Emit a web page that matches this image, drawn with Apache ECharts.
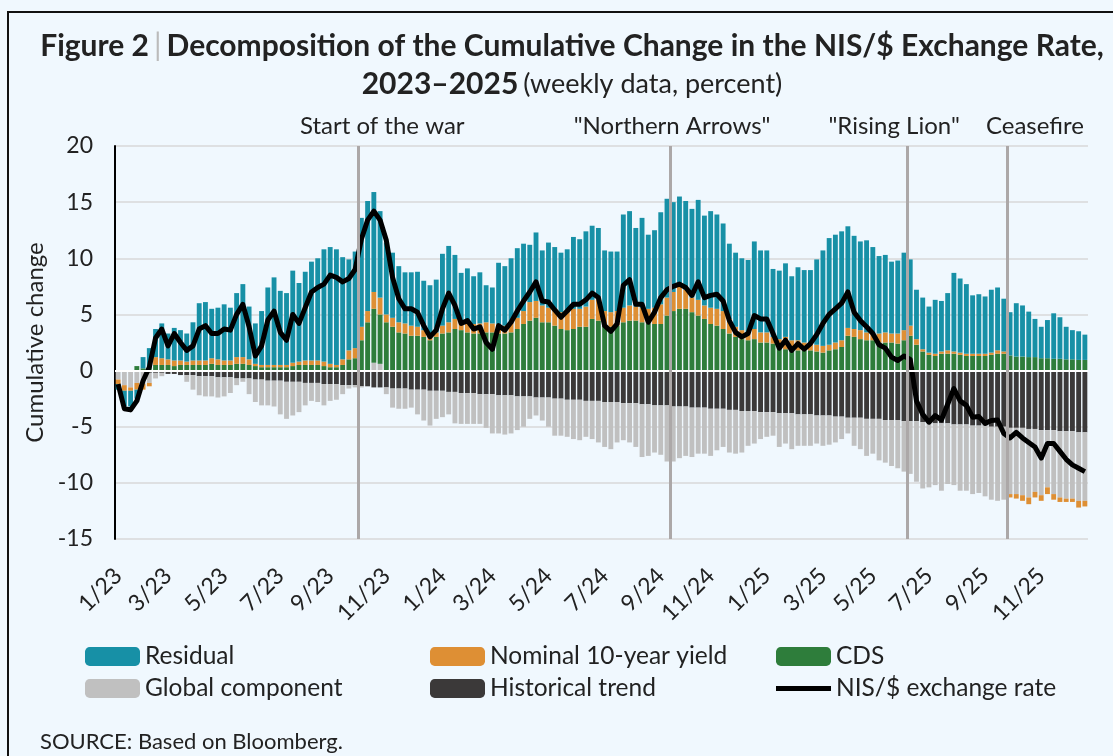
<!DOCTYPE html>
<html>
<head>
<meta charset="utf-8">
<script src="https://cdn.jsdelivr.net/npm/echarts@6/dist/echarts.min.js"></script>
<style>
  html, body { margin: 0; padding: 0; background: #f0f8fe; }
  #chart { width: 1113px; height: 756px; }
</style>
</head>
<body>
<div id="chart"></div>
<script>
// weekly observations, Friday 6 Jan 2023 .. 26 Dec 2025
var weeks = [];
for (var w = 0; w < 156; w++) {
    var d = new Date(Date.UTC(2023, 0, 6 + 7 * w));
    weeks.push(d.toISOString().slice(0, 10));
}
var tickLabels = ['1/23', '3/23', '5/23', '7/23', '9/23', '11/23', '1/24', '3/24', '5/24',
    '7/24', '9/24', '11/24', '1/25', '3/25', '5/25', '7/25', '9/25', '11/25'];

// events (position = week boundary)
var eventNames = ['Start of the war', '"Northern Arrows"', '"Rising Lion"', 'Ceasefire'];
var eventWeeks = [39, 89, 127, 143];

// 历史趋势
var trend = [
    0, 0, -0.1, -0.1, -0.1, -0.2, -0.2, -0.2, -0.3, -0.3,
    -0.4, -0.4, -0.4, -0.5, -0.5, -0.5, -0.6, -0.6, -0.6, -0.7,
    -0.7, -0.7, -0.8, -0.8, -0.9, -0.9, -0.9, -1.0, -1.0, -1.0,
    -1.1, -1.1, -1.1, -1.2, -1.2, -1.2, -1.3, -1.3, -1.3, -1.4,
    -1.4, -1.5, -1.5, -1.5, -1.6, -1.6, -1.6, -1.7, -1.7, -1.7,
    -1.8, -1.8, -1.8, -1.9, -1.9, -2.0, -2.0, -2.0, -2.1, -2.1,
    -2.1, -2.2, -2.2, -2.2, -2.3, -2.3, -2.3, -2.4, -2.4, -2.4,
    -2.5, -2.5, -2.6, -2.6, -2.6, -2.7, -2.7, -2.7, -2.8, -2.8,
    -2.8, -2.9, -2.9, -2.9, -3.0, -3.0, -3.1, -3.1, -3.1, -3.2,
    -3.2, -3.2, -3.3, -3.3, -3.3, -3.4, -3.4, -3.4, -3.5, -3.5,
    -3.6, -3.6, -3.6, -3.7, -3.7, -3.7, -3.8, -3.8, -3.8, -3.9,
    -3.9, -3.9, -4.0, -4.0, -4.0, -4.1, -4.1, -4.2, -4.2, -4.2,
    -4.3, -4.3, -4.3, -4.4, -4.4, -4.4, -4.5, -4.5, -4.5, -4.6,
    -4.6, -4.7, -4.7, -4.7, -4.8, -4.8, -4.8, -4.9, -4.9, -4.9,
    -5.0, -5.0, -5.0, -5.1, -5.1, -5.1, -5.2, -5.2, -5.3, -5.3,
    -5.3, -5.4, -5.4, -5.4, -5.5, -5.5
];
// 全球因素
var globalComp = [
    -0.8, -1.3, -1.4, -1.0, -1.1, -0.9, -0.5, -0.3, 0, 0,
    0, -0.6, -1.3, -1.7, -1.8, -1.8, -1.8, -1.7, -1.4, -0.6,
    -0.3, -1.4, -2.0, -2.3, -2.2, -2.3, -3.0, -3.3, -3.0, -2.7,
    -2.0, -1.6, -1.7, -1.9, -1.5, -1.4, -0.8, -0.3, -0.2, -0.1,
    0, 0.7, 0.6, -0.6, -1.7, -1.8, -1.8, -1.6, -2.2, -2.75,
    -3.1, -2.5, -2.35, -2.0, -2.8, -2.75, -2.75, -2.75, -2.65, -3.0,
    -3.5, -3.4, -3.5, -3.4, -3.0, -2.7, -2.0, -1.6, -2.05, -2.6,
    -3.3, -3.3, -3.3, -3.5, -3.6, -3.2, -3.4, -3.7, -4.0, -4.2,
    -3.6, -3.3, -3.5, -3.9, -4.7, -4.6, -4.2, -4.4, -5.0, -4.9,
    -4.6, -4.4, -4.4, -4.1, -4.1, -4.2, -3.7, -3.4, -3.8, -3.9,
    -3.7, -3.1, -2.9, -2.4, -2.2, -2.1, -3.0, -2.7, -3.2, -2.8,
    -2.8, -2.8, -2.5, -2.7, -2.6, -2.3, -2.0, -1.4, -2.5, -2.8,
    -3.3, -3.1, -3.7, -3.8, -4.1, -4.3, -4.5, -4.7, -5.4, -5.9,
    -5.8, -5.5, -6.0, -5.4, -5.4, -5.9, -5.9, -6.1, -6.0, -6.3,
    -6.5, -6.6, -6.5, -5.9, -5.9, -6.0, -6.1, -5.6, -5.8, -5.1,
    -5.7, -5.9, -6.0, -6.0, -6.1, -6.1
];
// CDS
var cds = [
    0, 0, 0, 0.4, 0.2, 0.3, 0.5, 0.5, 0.5, 0.4,
    0.5, 0.5, 0.5, 0.5, 0.5, 0.6, 0.5, 0.5, 0.5, 0.6,
    0.6, 0.5, 0.4, 0.3, 0.3, 0.3, 0.3, 0.3, 0.4, 0.5,
    0.5, 0.5, 0.5, 0.4, 0.3, 0.3, 0.5, 1.0, 1.1, 2.7,
    4.3, 4.8, 4.4, 4.3, 3.9, 3.4, 3.3, 3.1, 3.1, 3.0,
    2.7, 3.0, 3.3, 3.4, 3.7, 3.6, 3.4, 3.3, 3.3, 3.4,
    3.4, 3.3, 3.3, 3.4, 3.7, 4.15, 4.45, 4.7, 4.3, 4.3,
    4.0, 3.7, 3.6, 3.7, 3.9, 3.9, 4.6, 4.45, 4.0, 3.9,
    4.0, 4.3, 4.45, 4.45, 4.3, 4.2, 4.15, 4.15, 4.9, 5.3,
    5.5, 5.5, 5.2, 4.9, 4.6, 4.15, 4.0, 3.7, 3.3, 3.0,
    2.8, 2.7, 2.8, 2.5, 2.5, 2.4, 2.1, 1.9, 1.8, 1.8,
    1.8, 1.8, 1.7, 1.6, 1.8, 1.9, 2.1, 3.1, 3.0, 2.8,
    2.7, 2.7, 2.5, 2.5, 2.5, 2.4, 2.7, 3.1, 2.3, 1.7,
    1.4, 1.3, 1.5, 1.5, 1.5, 1.4, 1.3, 1.3, 1.3, 1.3,
    1.4, 1.5, 1.5, 1.35, 1.25, 1.25, 1.2, 1.2, 1.1, 1.1,
    1.05, 1.05, 1.0, 1.0, 0.95, 0.95
];
// 10年期名义收益率
var yield10 = [
    -0.4, -0.5, -0.3, -0.6, -0.5, -0.3, 0.7, 0.6, 0.5, 0.5,
    0.4, 0.3, 0.4, 0.4, 0.4, 0.5, 0.5, 0.4, 0.4, 0.6,
    0.6, 0.5, 0.2, 0.2, 0.2, 0.2, 0.2, 0.2, 0.3, 0.3,
    0.4, 0.4, 0.4, 0.4, 0.3, 0.2, 0.5, 0.8, 0.9, 1.2,
    1.0, 1.5, 1.5, 0.7, 0.8, 0.9, 0.9, 0.9, 0.8, 0.6,
    0.4, 0.4, 0.7, 0.9, 0.9, 0.7, 0.9, 0.85, 0.9, 0.9,
    0.8, 0.85, 0.7, 0.9, 1.0, 1.15, 1.65, 1.5, 1.5, 1.3,
    1.5, 1.5, 1.7, 1.8, 1.6, 1.8, 1.7, 2.05, 1.3, 1.3,
    1.3, 1.3, 1.35, 1.25, 1.3, 1.3, 1.45, 1.75, 1.6, 1.7,
    2.0, 1.7, 1.3, 1.4, 1.2, 1.45, 1.5, 1.6, 1.3, 0.9,
    0.8, 0.7, 0.9, 0.9, 0.9, 0.6, 0.7, 1.1, 0.9, 0.9,
    0.7, 0.6, 0.6, 0.6, 0.5, 0.6, 0.6, 0.7, 0.7, 0.8,
    0.7, 0.6, 0.8, 0.9, 0.8, 0.9, 0.9, 0.9, 0.5, 0.2,
    0.2, 0.2, 0.2, 0.3, 0.2, 0.2, 0.2, 0.2, 0.2, 0.2,
    0.2, 0.3, 0.2, -0.3, -0.4, -0.5, -0.6, -0.5, -0.5, -0.6,
    -0.5, -0.4, -0.3, -0.3, -0.6, -0.5
];
// 残差
var residual = [
    -0.5, -1.4, -1.4, -0.8, 1.0, 1.7, 2.5, 3.1, 2.3, 2.9,
    2.7, 2.5, 3.4, 5.1, 5.2, 4.4, 4.6, 5.0, 4.7, 5.7,
    6.5, 4.7, 3.6, 4.8, 6.9, 7.8, 6.6, 6.4, 8.2, 7.0,
    7.9, 8.8, 9.1, 10.0, 10.4, 10.3, 9.1, 8.1, 8.6, 9.7,
    9.8, 8.9, 7.7, 6.4, 5.8, 5.0, 4.55, 4.75, 4.9, 4.4,
    4.5, 4.7, 6.4, 6.8, 5.7, 4.4, 4.8, 4.25, 4.55, 3.3,
    3.2, 5.45, 5.3, 5.7, 6.2, 6.0, 5.1, 6.1, 4.9, 5.8,
    5.5, 5.3, 5.5, 6.4, 6.2, 6.7, 6.6, 6.2, 5.4, 5.4,
    5.3, 8.3, 8.4, 7.0, 8.0, 6.6, 6.9, 8.2, 8.8, 8.0,
    8.0, 7.9, 7.9, 8.9, 8.0, 8.6, 8.4, 7.8, 6.7, 6.6,
    6.4, 6.45, 7.8, 7.3, 7.3, 6.05, 6.1, 6.55, 5.7, 6.5,
    6.45, 6.55, 7.6, 8.5, 9.5, 9.6, 9.7, 9.05, 8.3, 7.9,
    8.2, 7.7, 6.9, 6.9, 6.4, 6.5, 6.9, 5.9, 4.4, 4.6,
    4.1, 4.8, 4.5, 5.1, 7.0, 6.6, 6.2, 5.2, 5.3, 5.1,
    5.6, 5.6, 4.7, 3.85, 4.75, 4.55, 4.05, 3.4, 2.8, 3.4,
    4.05, 3.7, 2.9, 2.6, 2.55, 2.25
];
// 美元/谢克尔汇率累计变化
var nisRate = [
    -1.2, -3.4, -3.5, -2.7, -0.9, 0.3, 2.9, 3.7, 2.2, 3.3,
    2.5, 1.8, 2.2, 3.7, 4.0, 3.3, 3.3, 3.7, 3.6, 5.0,
    5.9, 3.9, 1.3, 2.2, 4.5, 5.3, 3.4, 2.7, 5.0, 4.2,
    5.6, 7.0, 7.4, 7.7, 8.5, 8.3, 7.9, 8.2, 9.0, 11.7,
    13.4, 14.2, 13.4, 11.6, 8.3, 6.4, 5.5, 5.5, 5.2, 4.0,
    3.0, 3.6, 5.5, 6.9, 5.8, 4.2, 4.45, 3.7, 3.9, 2.5,
    1.9, 4.0, 3.6, 4.3, 5.3, 6.2, 7.0, 7.9, 6.2, 6.1,
    5.4, 4.75, 5.3, 5.9, 5.9, 6.3, 6.9, 6.5, 4.0, 3.5,
    4.15, 7.6, 8.1, 5.9, 5.9, 4.3, 5.2, 6.5, 7.2, 7.5,
    7.7, 7.4, 6.7, 7.9, 6.5, 6.7, 6.8, 6.2, 4.45, 3.4,
    3.0, 3.3, 4.9, 4.6, 4.6, 3.3, 2.0, 2.7, 1.8, 2.4,
    1.9, 2.4, 3.2, 4.2, 5.0, 5.5, 6.0, 7.0, 5.2, 4.45,
    3.9, 3.3, 2.3, 2.0, 1.2, 0.9, 1.3, 1.0, -2.7, -3.9,
    -4.6, -4.0, -4.4, -3.0, -1.6, -2.7, -3.1, -4.15, -4.1, -4.7,
    -4.45, -4.4, -5.6, -6.0, -5.5, -6.0, -6.4, -6.8, -7.8, -6.5,
    -6.5, -7.2, -7.9, -8.4, -8.7, -9.0
];

var FONT = 'Lato';
var TXT = '#222222';

function tickOf(val) {
    var p = val.split('-');
    return (+p[1]) + '/' + p[0].slice(2);
}

var myChart = echarts.init(document.getElementById('chart'));

function barSeries(name, data, color) {
    return {
        name: name,
        type: 'bar',
        stack: 'total',
        data: data,
        barCategoryGap: '22%',
        itemStyle: { color: color },
        emphasis: { disabled: true }
    };
}

var residualSeries = barSeries('Residual', residual, '#1790a6');
// 零线（白色）
residualSeries.markLine = {
    silent: true,
    symbol: 'none',
    label: { show: false },
    lineStyle: { color: '#ffffff', width: 2, type: 'solid' },
    data: [{ yAxis: 0 }]
};

var eventData = [];
var labelShift = [24, 2, -13, 28];
for (var e = 0; e < eventWeeks.length; e++) {
    eventData.push({ name: eventNames[e], xAxis: eventWeeks[e], label: { offset: [labelShift[e], 0] } });
}

// 图例：三列，每列两行
function legendCol(left, names) {
    return {
        orient: 'vertical',
        left: left,
        top: 644,
        padding: 0,
        itemWidth: 55,
        itemHeight: 19,
        itemGap: 7,
        selectedMode: false,
        symbolKeepAspect: true,
        textStyle: { fontFamily: FONT, fontSize: 24.5, color: TXT, lineHeight: 24 },
        data: names
    };
}

var option = {
    backgroundColor: '#f0f8fe',
    animation: false,
    title: {
        left: 567,
        top: 22,
        textAlign: 'center',
        text: '{b|Figure 2} {s||} {b|Decomposition of the Cumulative Change in the NIS/$ Exchange Rate,}\n' +
            '{b|2023\u20132025} {n|(weekly data, percent)}',
        textStyle: {
            rich: {
                b: { fontFamily: FONT, fontWeight: 'bold', fontSize: 30, color: TXT, lineHeight: 38 },
                s: { fontFamily: FONT, fontWeight: 'normal', fontSize: 30, color: '#bbbbbb', lineHeight: 38 },
                n: { fontFamily: FONT, fontWeight: 'normal', fontSize: 27, color: TXT, lineHeight: 38 }
            }
        }
    },
    legend: [
        legendCol(85, ['Residual', 'Global component']),
        legendCol(430, ['Nominal 10-year yield', 'Historical trend']),
        legendCol(776, ['CDS', { name: 'NIS/$ exchange rate', icon: 'path://M0,0L55,0L55,5L0,5Z' }])
    ],
    grid: { left: 115, right: 25, top: 146, bottom: 217 },
    xAxis: [{
        type: 'category',
        data: weeks,
        boundaryGap: true,
        axisLine: { show: false, onZero: false },
        axisTick: { show: false },
        splitLine: { show: false },
        axisLabel: {
            rotate: 45,
            margin: 33,
            fontFamily: FONT,
            fontSize: 23,
            color: TXT,
            interval: function (idx, val) {
                return +val.slice(8, 10) <= 7 && tickLabels.indexOf(tickOf(val)) >= 0;
            },
            formatter: function (val) { return tickOf(val); }
        }
    }, {
        type: 'value',
        min: 0,
        max: 156,
        show: false
    }],
    yAxis: {
        type: 'value',
        min: -15,
        max: 20,
        interval: 5,
        name: 'Cumulative change',
        nameLocation: 'middle',
        nameGap: 68,
        nameTextStyle: { fontFamily: FONT, fontSize: 24, color: TXT },
        axisLine: { show: true, onZero: false, lineStyle: { color: '#000000', width: 2 } },
        axisTick: { show: false },
        axisLabel: { fontFamily: FONT, fontSize: 23, color: TXT, margin: 22 },
        splitLine: { lineStyle: { color: '#d9d9d9', width: 1.5 } }
    },
    series: [
        barSeries('Historical trend', trend, '#3b3939'),
        barSeries('Global component', globalComp, '#c0c0c0'),
        barSeries('CDS', cds, '#2e7d3b'),
        barSeries('Nominal 10-year yield', yield10, '#de8f34'),
        residualSeries,
        {
            name: 'events',
            type: 'line',
            xAxisIndex: 1,
            data: [],
            z: 3,
            markLine: {
                silent: true,
                symbol: 'none',
                lineStyle: { color: '#aca8a8', width: 3, type: 'solid' },
                label: {
                    show: true,
                    position: 'end',
                    distance: 8,
                    formatter: '{b}',
                    fontFamily: FONT,
                    fontSize: 24,
                    color: TXT
                },
                data: eventData
            }
        },
        {
            name: 'NIS/$ exchange rate',
            type: 'line',
            data: nisRate,
            symbol: 'none',
            z: 4,
            itemStyle: { color: '#000000' },
            lineStyle: { color: '#000000', width: 5, join: 'round' }
        }
    ],
    graphic: [{
        type: 'polyline',
        shape: { points: [[8, 756], [8, 12], [1113, 12]] },
        style: { stroke: '#111111', lineWidth: 2, fill: null }
    }, {
        type: 'text',
        left: 40,
        top: 731,
        style: { text: 'SOURCE: Based on Bloomberg.', fontFamily: FONT, fontSize: 22, fill: TXT }
    }]
};

myChart.setOption(option);
</script>
</body>
</html>
